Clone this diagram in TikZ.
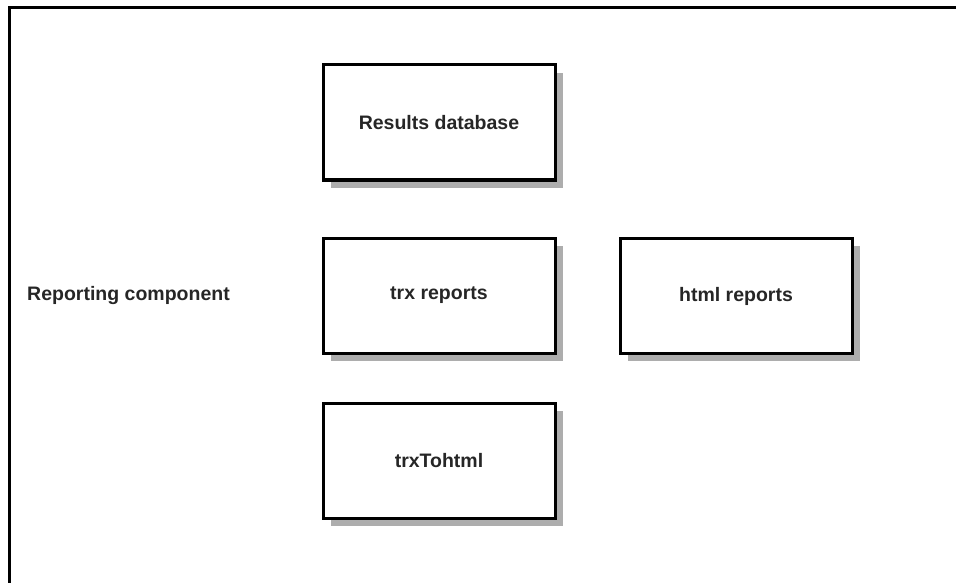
\documentclass[tikz,border=0pt]{standalone}
\usepackage{fontspec}
\setmainfont{Liberation Sans}
\begin{document}
\begin{tikzpicture}[x=1pt,y=-1pt,
  labelfont/.style={font=\fontsize{19.5}{22}\selectfont\bfseries, text=black!85},
  compbox/.style={draw=black, line width=3pt, fill=white, minimum width=232pt,
    minimum height=115pt, inner sep=0pt, labelfont},
  boxshadow/.style={fill=black!32, draw=none}]
  \useasboundingbox (0,0) rectangle (956,583);
  % outer frame (top and left edges only are in view)
  \draw[line width=3pt] (9.5,583) -- (9.5,7.5) -- (956,7.5);
  % drop shadows under the components
  \fill[boxshadow] (331,73) rectangle (563,188);
  \fill[boxshadow] (331,246) rectangle (563,361);
  \fill[boxshadow] (628,246) rectangle (860,361);
  \fill[boxshadow] (331,411) rectangle (563,526);
  % components
  \node[compbox] (db) at (439,122.5) {Results database};
  \node[compbox] (trx) at (439,295.5) {trx reports};
  \node[compbox] (html) at (736,296) {html reports};
  \node[compbox] (conv) at (439,461) {trxTohtml};
  \node[anchor=west, inner sep=0pt, labelfont] (label) at (27,295) {Reporting component};
\end{tikzpicture}
\end{document}
